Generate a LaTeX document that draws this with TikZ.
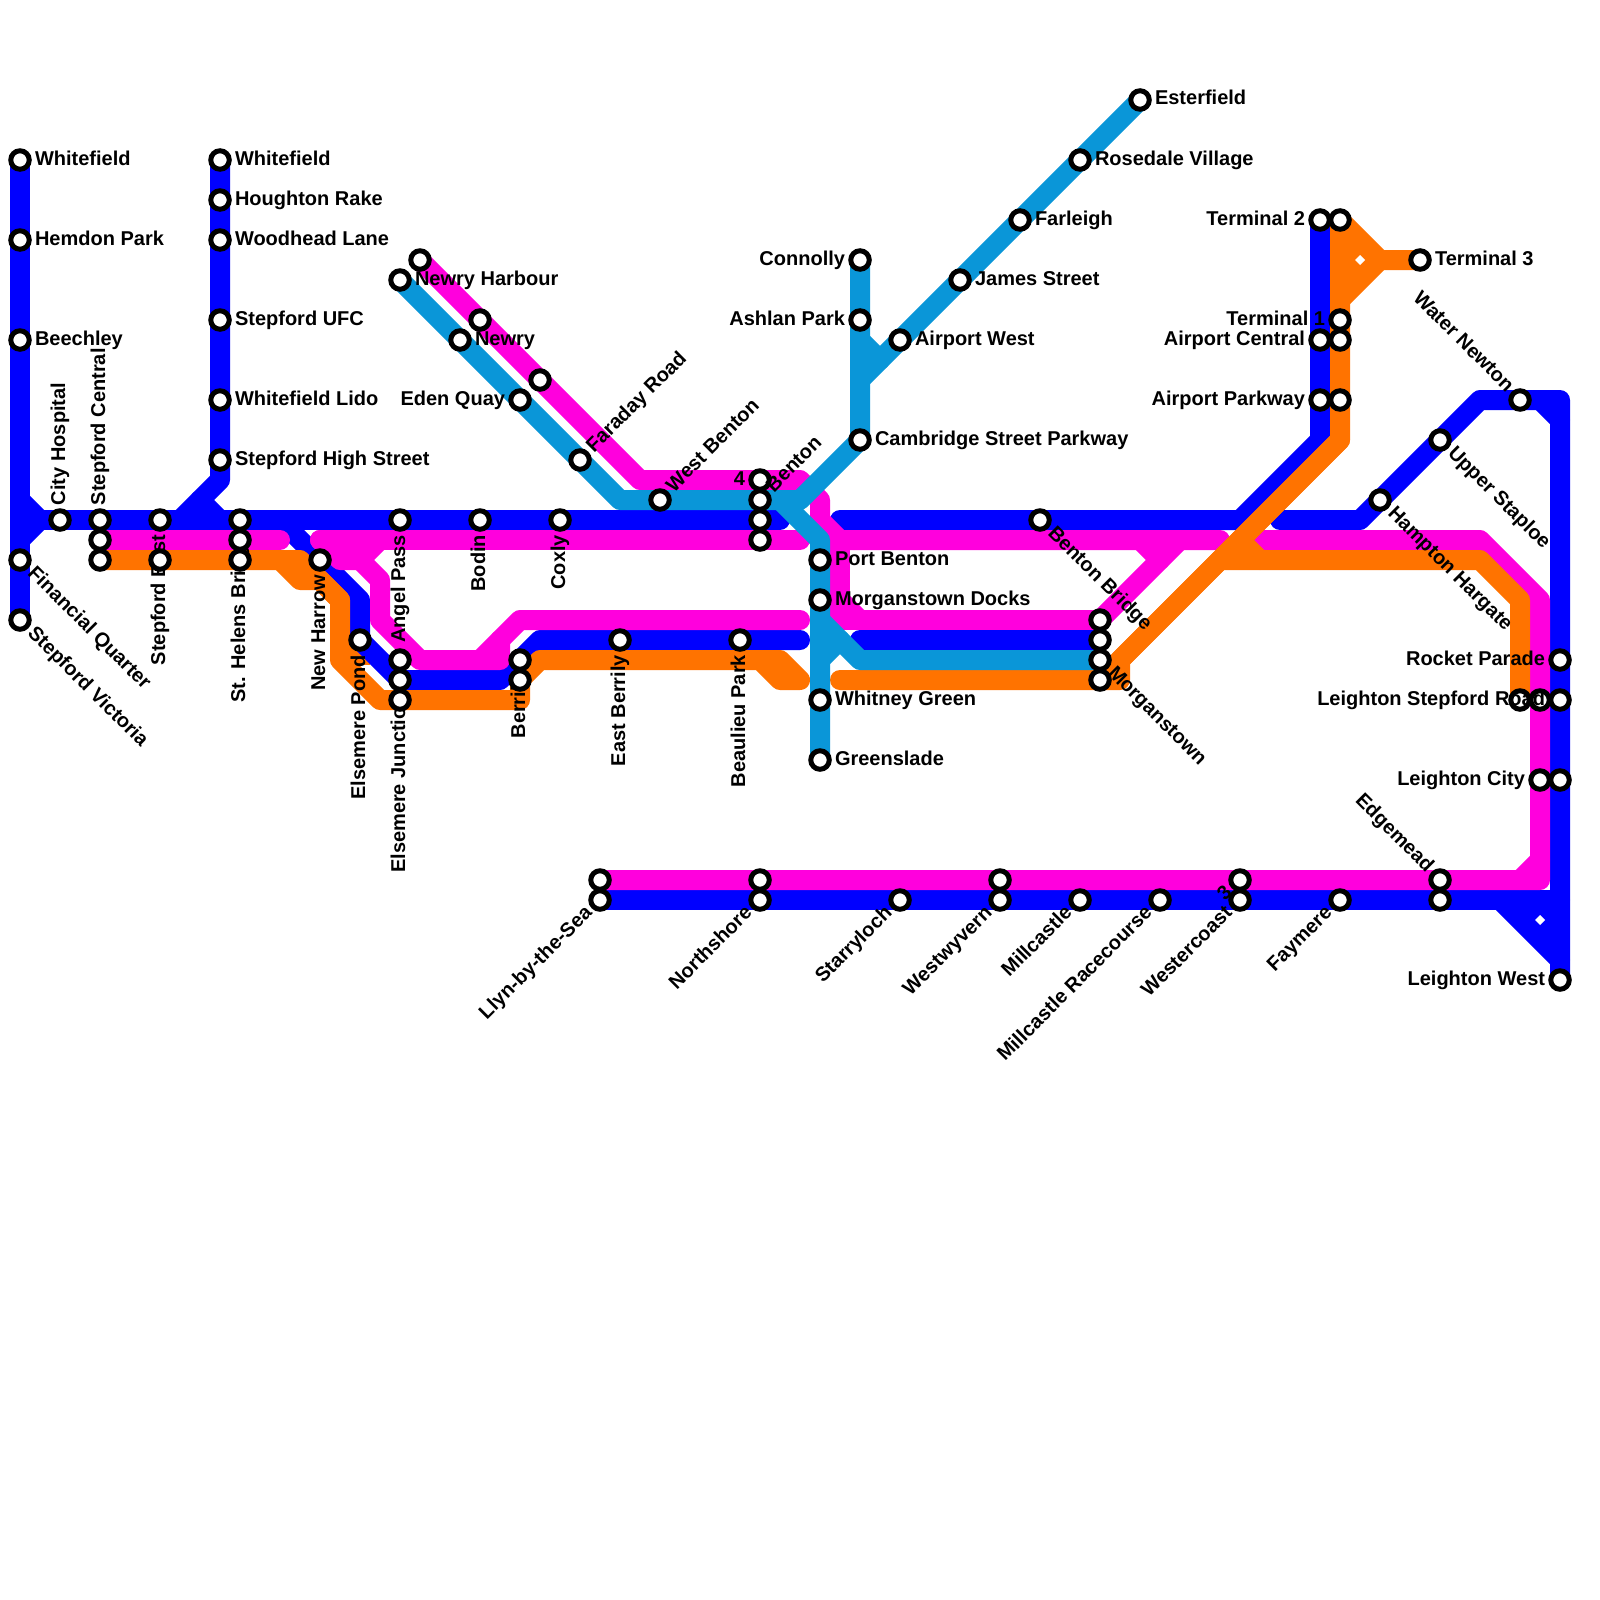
\documentclass[tikz,border=0pt]{standalone}
\usepackage{fontspec}
\setmainfont{Liberation Sans}
\pgfdeclarelayer{lines}
\pgfsetlayers{lines,main}
\definecolor{lblue}{HTML}{0000FF}
\definecolor{lmag}{HTML}{FF00DD}
\definecolor{lora}{HTML}{FF7300}
\definecolor{lcya}{HTML}{0A96D8}
\tikzset{
  stationnode/.style={circle,draw=black,fill=white,line width=5pt,minimum size=18.5pt,inner sep=0pt,outer sep=0pt},
  lbl/.style={inner sep=0pt,outer sep=0pt,font=\fontsize{20}{24}\selectfont\bfseries,text=black},
  route/.style={line width=20pt,line cap=round,line join=round},
  rblue/.style={route,draw=lblue},
  rmag/.style={route,draw=lmag},
  rora/.style={route,draw=lora},
  rcya/.style={route,draw=lcya},
  hole/.style={fill=white,draw=none}
}
% station without label
\newcommand{\stn}[3]{\node[stationnode] (#1) at (#2,#3) {};}
% station with label: right, left, up (rot 90, above), down (rot 90, below)
\newcommand{\stR}[4]{\stn{#1}{#2}{#3}\node[lbl,anchor=base west] (#1-l) at ([shift={(15,5)}]#1.center) {#4};}
\newcommand{\stL}[4]{\stn{#1}{#2}{#3}\node[lbl,anchor=base east] (#1-l) at ([shift={(-15,5)}]#1.center) {#4};}
\newcommand{\stU}[4]{\stn{#1}{#2}{#3}\node[lbl,rotate=90,anchor=base west] (#1-l) at ([shift={(5,-15)}]#1.center) {#4};}
\newcommand{\stD}[4]{\stn{#1}{#2}{#3}\node[lbl,rotate=90,anchor=base east] (#1-l) at ([shift={(5,15)}]#1.center) {#4};}
% 45 degree labels: SE start, NE start, SW end, NW end
\newcommand{\stSE}[4]{\stn{#1}{#2}{#3}\node[lbl,rotate=-45,anchor=base west] (#1-l) at ([shift={(7,14)}]#1.center) {#4};}
\newcommand{\stNE}[4]{\stn{#1}{#2}{#3}\node[lbl,rotate=45,anchor=base west] (#1-l) at ([shift={(14,-7)}]#1.center) {#4};}
\newcommand{\stSW}[4]{\stn{#1}{#2}{#3}\node[lbl,rotate=45,anchor=base east] (#1-l) at ([shift={(-7,14)}]#1.center) {#4};}
\newcommand{\stNW}[4]{\stn{#1}{#2}{#3}\node[lbl,rotate=-45,anchor=base east] (#1-l) at ([shift={(-14,-7)}]#1.center) {#4};}
\begin{document}
\begin{tikzpicture}[x=1pt,y=-1pt]
\useasboundingbox (0,0) rectangle (1600,1600);
% ---------- stations and labels
\stR{wfa}{20}{160}{Whitefield}
\stR{hem}{20}{240}{Hemdon Park}
\stR{bee}{20}{340}{Beechley}
\stSE{fin}{20}{560}{Financial Quarter}
\stSE{vic}{20}{620}{Stepford Victoria}
\stU{cit}{60}{520}{City Hospital}
\stU{cena}{100}{520}{Stepford Central}
\stn{cenb}{100}{540}
\stn{cenc}{100}{560}
\stD{easa}{160}{520}{Stepford East}
\stn{easb}{160}{560}
\stD{hela}{240}{520}{St. Helens Bridge}
\stn{helb}{240}{540}
\stn{helc}{240}{560}
\stR{wfb}{220}{160}{Whitefield}
\stR{hou}{220}{200}{Houghton Rake}
\stR{woo}{220}{240}{Woodhead Lane}
\stR{ufc}{220}{320}{Stepford UFC}
\stR{lid}{220}{400}{Whitefield Lido}
\stR{hig}{220}{460}{Stepford High Street}
\stD{har}{320}{560}{New Harrow}
\stD{pon}{360}{640}{Elsemere Pond}
\stD{ang}{400}{520}{Angel Pass}
\stn{juna}{400}{660}
\stD{junb}{400}{680}{Elsemere Junction}
\stn{junc}{400}{700}
\stD{bod}{480}{520}{Bodin}
\stD{cox}{560}{520}{Coxly}
\stD{bera}{520}{660}{Berrily}
\stn{berb}{520}{680}
\stD{ebe}{620}{640}{East Berrily}
\stD{bea}{740}{640}{Beaulieu Park}
\stn{nhm}{420}{260}
\stR{nhc}{400}{280}{Newry Harbour}
\stn{nem}{480}{320}
\stR{nec}{460}{340}{Newry}
\stn{edm}{540}{380}
\stL{edc}{520}{400}{Eden Quay}
\stNE{far}{580}{460}{Faraday Road}
\stNE{wbe}{660}{500}{West Benton}
\stL{bena}{760}{480}{4}
\stNE{benb}{760}{500}{Benton}
\stn{benc}{760}{520}
\stn{bend}{760}{540}
\stR{pbe}{820}{560}{Port Benton}
\stR{mdo}{820}{600}{Morganstown Docks}
\stR{whg}{820}{700}{Whitney Green}
\stR{gre}{820}{760}{Greenslade}
\stL{con}{860}{260}{Connolly}
\stL{ash}{860}{320}{Ashlan Park}
\stR{cam}{860}{440}{Cambridge Street Parkway}
\stR{awe}{900}{340}{Airport West}
\stR{jam}{960}{280}{James Street}
\stR{fle}{1020}{220}{Farleigh}
\stR{ros}{1080}{160}{Rosedale Village}
\stR{est}{1140}{100}{Esterfield}
\stSE{bbr}{1040}{520}{Benton Bridge}
\stn{mora}{1100}{620}
\stn{morb}{1100}{640}
\stSE{morc}{1100}{660}{Morganstown}
\stn{mord}{1100}{680}
\stL{tba}{1320}{220}{Terminal 2}
\stn{tbb}{1340}{220}
\stR{tc}{1420}{260}{Terminal 3}
\stL{ta}{1340}{320}{Terminal 1}
\stL{aca}{1320}{340}{Airport Central}
\stn{acb}{1340}{340}
\stL{apa}{1320}{400}{Airport Parkway}
\stn{apb}{1340}{400}
\stNW{wat}{1520}{400}{Water Newton}
\stSE{ups}{1440}{440}{Upper Staploe}
\stSE{ham}{1380}{500}{Hampton Hargate}
\stL{roc}{1560}{660}{Rocket Parade}
\stn{lsa}{1520}{700}
\stn{lsb}{1540}{700}
\stL{lsc}{1560}{700}{Leighton Stepford Road}
\stL{lca}{1540}{780}{Leighton City}
\stn{lcb}{1560}{780}
\stL{lwe}{1560}{980}{Leighton West}
\stNW{edga}{1440}{880}{Edgemead}
\stn{edgb}{1440}{900}
\stSW{fay}{1340}{900}{Faymere}
\stSW{wesa}{1240}{880}{3}
\stSW{wesb}{1240}{900}{Westercoast}
\stSW{mir}{1160}{900}{Millcastle Racecourse}
\stSW{mil}{1080}{900}{Millcastle}
\stn{wwa}{1000}{880}
\stSW{wwb}{1000}{900}{Westwyvern}
\stSW{sta}{900}{900}{Starryloch}
\stn{nora}{760}{880}
\stSW{norb}{760}{900}{Northshore}
\stn{llya}{600}{880}
\stSW{llyb}{600}{900}{Llyn-by-the-Sea}
% ---------- routes, beneath the stations
\begin{pgfonlayer}{lines}
\fill[white] (0,0) rectangle (1600,1600);
% short orange piece lying under the blue
\draw[route,draw=lora,line cap=butt] (pon.center) -- (360,665);
% blue
\draw[rblue] (wfa.center) -- (vic.center);
\draw[rblue] (20,500) -- (40,520) -- (20,540);
\draw[rblue] (20,520) -- (cit.center) -- (hela.center) -- (ang.center) -- (780,520);
\draw[rblue] (wfb.center) -- (hig.center) -- (220,480) -- (180,520);
\draw[rblue] (200,500) -- (220,520);
\draw[rblue] (280,520) -- (har.center) -- (360,600) -- (pon.center) -- (juna.center |- 0,680) -- (500,680) -- (540,640) -- (800,640);
\draw[rblue] (860,640) -- (morb.center);
\draw[rblue] (840,520) -- (1240,520) -- (1320,440) -- (tba.center);
\draw[rblue] (1280,520) -- (1360,520) -- (1480,400) -- (1560,400) -- (lwe.center);
\draw[rblue] (1540,400) -- (1560,420);
\draw[rblue] (llyb.center) -- (1560,900);
\draw[rblue] (1500,900) -- (1560,960);
\fill[lblue] (1500,900) -- (1560,900) -- (1560,960) -- cycle;
\fill[hole] (1535,920) -- (1540,915) -- (1545,920) -- (1540,925) -- cycle;
% magenta
\draw[rmag] (cenb.center) -- (280,540);
\draw[rmag] (320,540) -- (800,540);
\draw[rmag] (320,540) -- (340,560) -- (360,560) -- (380,540);
\draw[rmag] (360,560) -- (380,580) -- (380,620) -- (420,660) -- (500,660) -- (500,640);
\draw[rmag] (480,660) -- (520,620) -- (800,620);
\draw[rmag] (nhm.center) -- (640,480) -- (800,480) -- (820,500) -- (820,520) -- (840,540) -- (1220,540);
\draw[rmag] (840,540) -- (840,620) -- (860,620) -- (mora.center);
\draw[rmag] (840,600) -- (860,620);
\draw[rmag] (1140,540) -- (1160,560);
\draw[rmag] (1180,540) -- (mora.center);
\draw[rmag] (1240,540) -- (1480,540) -- (1540,600) -- (1540,880) -- (llya.center);
\draw[rmag] (1520,880) -- (1540,860);
% orange
\draw[rora] (cenc.center) -- (300,560) -- (340,600) -- (340,660) -- (380,700) -- (520,700) -- (berb.center) -- (540,660) -- (780,660) -- (800,680) -- (780,680) -- (760,660);
\draw[rora] (280,560) -- (300,580) -- (320,580) -- (340,600);
\draw[rora] (840,680) -- (1120,680) -- (1120,660) -- (1340,440) -- (tbb.center);
\draw[rora] (1100,680) -- (1340,440);
\draw[rora] (tbb.center) -- (1380,260) -- (tc.center);
\draw[rora] (1380,260) -- (1340,300);
\fill[lora] (1340,220) -- (1380,260) -- (1340,300) -- cycle;
\fill[hole] (1355,260) -- (1360,255) -- (1365,260) -- (1360,265) -- cycle;
\draw[rora] (1220,560) -- (1480,560) -- (1520,600) -- (lsa.center);
\draw[rora] (1240,540) -- (1260,560);
% cyan
\draw[rcya] (nhc.center) -- (620,500) -- (800,500) -- (cam.center) -- (con.center);
\draw[rcya] (780,500) -- (820,540) -- (gre.center);
\draw[rcya] (820,620) -- (860,660) -- (morc.center);
\draw[rcya] (820,660) -- (840,640);
\draw[rcya] (860,340) -- (880,360);
\draw[rcya] (860,380) -- (est.center);
\end{pgfonlayer}
\end{tikzpicture}
\end{document}
